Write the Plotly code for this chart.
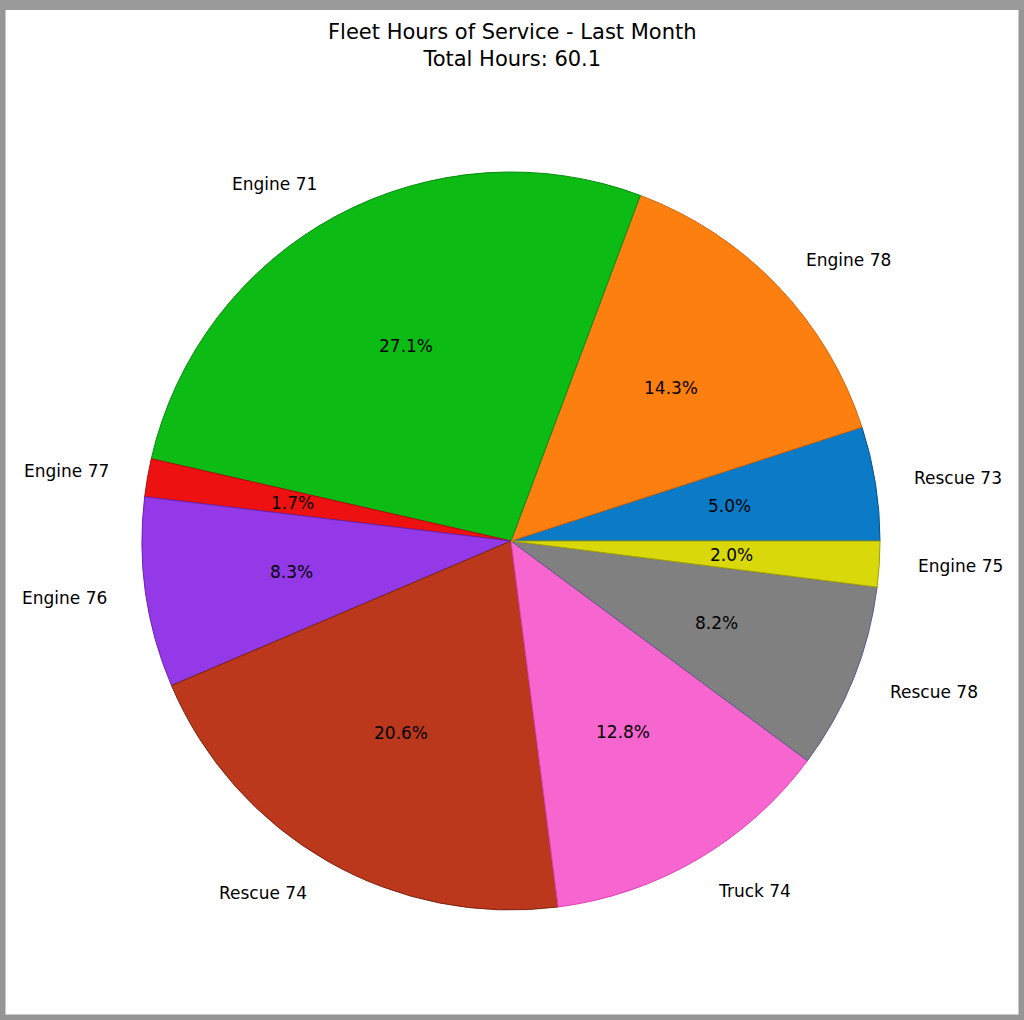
import math
import plotly.graph_objects as go

# ---- data ----
units = ["Rescue 73", "Engine 78", "Engine 71", "Engine 77", "Engine 76",
         "Rescue 74", "Truck 74", "Rescue 78", "Engine 75"]
hours = [3.0, 8.6, 16.3, 1.0, 5.0, 12.4, 7.7, 4.9, 1.2]
colors = ["#0b7bc8", "#fd7f0f", "#0cbb14", "#ee1111", "#9439e8",
          "#bb381c", "#f765cf", "#808080", "#d8d80a"]
edge_colors = ["#08508a", "#d0650a", "#088a0e", "#b00c0c", "#6a22b0",
               "#7a2412", "#e040b8", "#5a5a8a", "#a0a006"]
title_lines = ["Fleet Hours of Service - Last Month",
               "Total Hours: %.1f" % sum(hours)]

W, H = 1024, 1020
CX, CY, R = 511, 541, 369  # pie centre / radius in pixels
FONT = "DejaVu Sans"

dom_x = [(CX - R) / W, (CX + R) / W]
dom_y = [1 - (CY + R) / H, 1 - (CY - R) / H]

total = sum(hours)
# plotly places the first ccw slice clockwise of `rotation`; shift so it starts at 3 o'clock
rotation = 90 - hours[0] / total * 360

fig = go.Figure()
fig.add_trace(go.Pie(
    labels=units, values=hours, sort=False, direction="counterclockwise",
    rotation=rotation, textinfo="none", hoverinfo="label+value+percent",
    marker=dict(colors=colors, line=dict(color=edge_colors, width=1)),
    domain=dict(x=dom_x, y=dom_y), showlegend=False,
))

# labels at 1.1R and percentages at 0.6R, at each wedge's mid-angle
annotations = []
cum = 0.0
for name, v in zip(units, hours):
    mid = (cum + v / 2) / total * 2 * math.pi
    cum += v
    c, s = math.cos(mid), math.sin(mid)
    lx = (CX + 1.1 * R * c) / W
    ly = 1 - (CY - 1.1 * R * s) / H
    annotations.append(dict(
        x=lx, y=ly, xref="paper", yref="paper", text=name, showarrow=False,
        xanchor="left" if c > 0 else "right", yanchor="middle",
        font=dict(family=FONT, size=17, color="black")))
    px = (CX + 0.6 * R * c) / W
    py = 1 - (CY - 0.6 * R * s) / H
    annotations.append(dict(
        x=px, y=py, xref="paper", yref="paper", text="%.1f%%" % (v / total * 100),
        showarrow=False, xanchor="center", yanchor="middle",
        font=dict(family=FONT, size=17, color="black")))

annotations.append(dict(
    x=0.5, y=1 - 46 / H, xref="paper", yref="paper",
    text="<br>".join(title_lines), showarrow=False,
    xanchor="center", yanchor="middle",
    font=dict(family=FONT, size=21, color="black")))

shapes = [
    dict(type="rect", xref="paper", yref="paper", x0=0, x1=1, y0=0, y1=1,
         line=dict(color="#959595", width=11), fillcolor="rgba(0,0,0,0)"),
    dict(type="rect", xref="paper", yref="paper", x0=0, x1=1,
         y0=1 - 10 / H, y1=1, line=dict(width=0), fillcolor="#9a9a9a"),
]

fig.update_layout(
    width=W, height=H, margin=dict(l=0, r=0, t=0, b=0),
    paper_bgcolor="white", plot_bgcolor="white",
    annotations=annotations, shapes=shapes,
    font=dict(family=FONT),
)

fig.write_html("out.html",
               config={"displayModeBar": False},
               post_script="document.body.style.margin='0';"
                           "document.body.style.overflow='hidden';")
